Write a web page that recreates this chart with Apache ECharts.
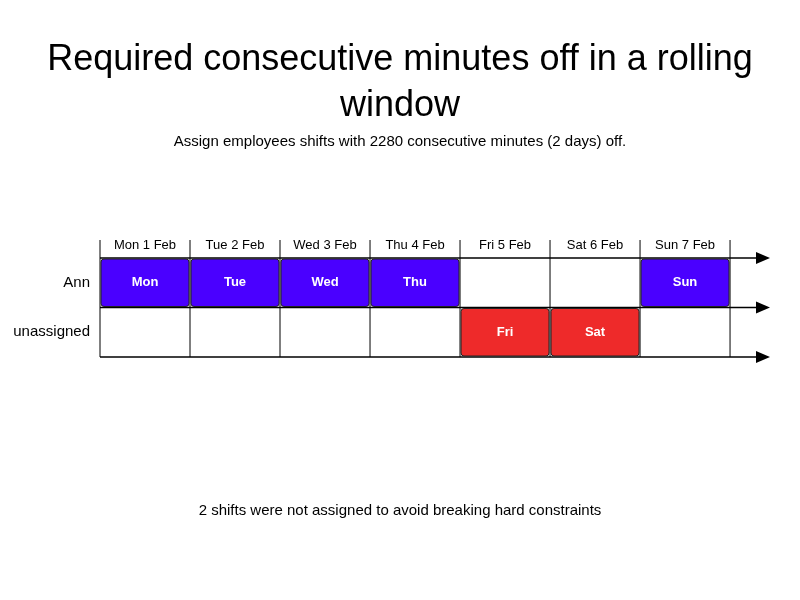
<!DOCTYPE html>
<html><head><meta charset="utf-8">
<script src="https://cdn.jsdelivr.net/npm/echarts@6/dist/echarts.min.js"></script>
<style>html,body{margin:0;padding:0;background:#fff}#main{width:800px;height:600px}</style>
</head><body><div id="main"></div>
<script>
// days along the top axis
var dayLabels = ['Mon 1 Feb', 'Tue 2 Feb', 'Wed 3 Feb', 'Thu 4 Feb', 'Fri 5 Feb', 'Sat 6 Feb', 'Sun 7 Feb'];
var rows = ['Ann', 'unassigned'];
// shifts: [day index, row index, label]
var shiftDay = [0, 1, 2, 3, 6, 4, 5];
var shiftRow = [0, 0, 0, 0, 0, 1, 1];
var shiftName = ['Mon', 'Tue', 'Wed', 'Thu', 'Sun', 'Fri', 'Sat'];
var rowColors = ['#4a00ff', '#ee2a2a'];

var chart = echarts.init(document.getElementById('main'));
var font = 'Liberation Sans, Arial, sans-serif';

var shiftData = shiftDay.map(function (d, i) { return [d, shiftRow[i], shiftName[i]]; });
var gridData = [0];

chart.setOption({
    animation: false,
    title: [
        {text: 'Required consecutive minutes off in a rolling\nwindow', left: 'center', top: 32,
         textStyle: {fontSize: 36, fontWeight: 'normal', color: '#000', fontFamily: font, lineHeight: 46}},
        {text: 'Assign employees shifts with 2280 consecutive minutes (2 days) off.', left: 'center', top: 129,
         textStyle: {fontSize: 15, fontWeight: 'normal', color: '#000', fontFamily: font}},
        {text: '2 shifts were not assigned to avoid breaking hard constraints', left: 'center', top: 498,
         textStyle: {fontSize: 15, fontWeight: 'normal', color: '#000', fontFamily: font}}
    ],
    grid: {left: 100, right: 30, top: 258, height: 99},
    xAxis: {type: 'value', min: 0, max: 7.444, show: false},
    yAxis: {type: 'value', min: 0, max: 2, inverse: true, show: false},
    series: [
        {
            type: 'custom', data: gridData, silent: true, z: 1,
            renderItem: function (params, api) {
                var ch = [];
                var xEnd = api.coord([7.444, 0])[0];
                for (var r = 0; r <= 2; r++) {
                    var p = api.coord([0, r]);
                    ch.push({type: 'line', shape: {x1: p[0], y1: p[1], x2: xEnd - 12, y2: p[1]},
                        style: {stroke: '#000', lineWidth: 1.3}});
                    ch.push({type: 'polygon', shape: {points: [[xEnd - 14, p[1] - 6], [xEnd, p[1]], [xEnd - 14, p[1] + 6]]},
                        style: {fill: '#000'}});
                }
                for (var d = 0; d <= 7; d++) {
                    var a = api.coord([d, 0]), b = api.coord([d, 2]);
                    ch.push({type: 'line', shape: {x1: a[0], y1: a[1] - 18, x2: b[0], y2: b[1]},
                        style: {stroke: '#000', lineWidth: 1}});
                }
                for (var k = 0; k < dayLabels.length; k++) {
                    var c = api.coord([k + 0.5, 0]);
                    ch.push({type: 'text', x: c[0], y: c[1] - 13,
                        style: {text: dayLabels[k], align: 'center', verticalAlign: 'middle', fontSize: 13, fontFamily: font, fill: '#000'}});
                }
                for (var j = 0; j < rows.length; j++) {
                    var q = api.coord([0, j + 0.5]);
                    ch.push({type: 'text', x: q[0] - 10, y: q[1],
                        style: {text: rows[j], align: 'right', verticalAlign: 'middle', fontSize: 15, fontFamily: font, fill: '#000'}});
                }
                return {type: 'group', children: ch};
            }
        },
        {
            type: 'custom', data: shiftData, z: 2,
            encode: {x: 0, y: 1},
            renderItem: function (params, api) {
                var d = api.value(0), r = api.value(1);
                var p0 = api.coord([d, r]), p1 = api.coord([d + 1, r + 1]);
                return {type: 'group', children: [
                    {type: 'rect', shape: {x: p0[0] + 1, y: p0[1] + 1, width: p1[0] - p0[0] - 2, height: p1[1] - p0[1] - 2, r: 3},
                     style: {fill: rowColors[r], stroke: '#222', lineWidth: 1}},
                    {type: 'text', x: (p0[0] + p1[0]) / 2, y: (p0[1] + p1[1]) / 2,
                     style: {text: shiftName[params.dataIndex], align: 'center', verticalAlign: 'middle',
                             fontSize: 13, fontWeight: 'bold', fontFamily: font, fill: '#fff'}}
                ]};
            }
        }
    ]
});
</script></body></html>
